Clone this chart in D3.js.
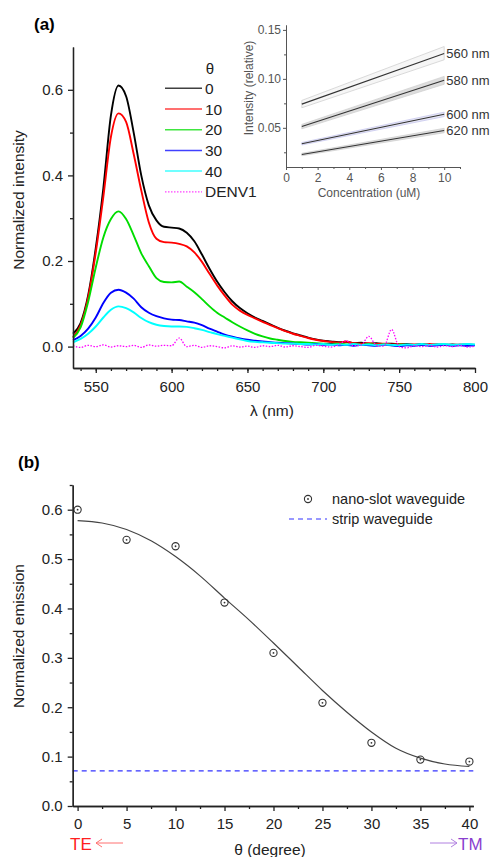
<!DOCTYPE html>
<html>
<head>
<meta charset="utf-8">
<script src="https://cdn.jsdelivr.net/npm/d3@7"></script>
<style>
  body { margin: 0; background: #fff; }
  text { font-family: "Liberation Sans", Arial, sans-serif; }
</style>
</head>
<body>
<div id="chart"></div>
<script>
// Defines dimensions of SVG
var width = 491;
var height = 857;

// ---- Panel (a) data: spectra sampled every 5 nm from 535 to 800 nm ----
var wavelengths = d3.range(535, 801, 5);
var seriesNames = ["0", "10", "20", "30", "40", "DENV1"];
var seriesColors = ["#000000", "#ff0000", "#00dd00", "#0000ff", "#00ffff", "#ff00ff"];

var spec0 = [0.030, 0.055, 0.120, 0.230, 0.370, 0.540, 0.610, 0.585, 0.500, 0.400,
  0.330, 0.295, 0.280, 0.278, 0.276, 0.266, 0.246, 0.215, 0.182, 0.152,
  0.127, 0.106, 0.090, 0.078, 0.068, 0.060, 0.052, 0.044, 0.037, 0.031,
  0.026, 0.021, 0.017, 0.014, 0.012, 0.010, 0.011, 0.008, 0.009, 0.007,
  0.008, 0.006, 0.007, 0.005, 0.006, 0.004, 0.006, 0.004, 0.005, 0.004,
  0.005, 0.004, 0.005, 0.004];
var spec10 = [0.022, 0.050, 0.115, 0.220, 0.350, 0.490, 0.545, 0.525, 0.450, 0.365,
  0.290, 0.252, 0.244, 0.243, 0.240, 0.234, 0.220, 0.198, 0.170, 0.143,
  0.119, 0.098, 0.084, 0.074, 0.066, 0.058, 0.050, 0.043, 0.036, 0.030,
  0.025, 0.020, 0.016, 0.013, 0.011, 0.009, 0.012, 0.008, 0.007, 0.008,
  0.006, 0.007, 0.005, 0.006, 0.004, 0.005, 0.004, 0.006, 0.004, 0.005,
  0.003, 0.005, 0.004, 0.004];
var spec20 = [0.020, 0.045, 0.105, 0.185, 0.255, 0.298, 0.316, 0.298, 0.260, 0.218,
  0.188, 0.160, 0.151, 0.150, 0.152, 0.140, 0.127, 0.111, 0.094, 0.079,
  0.068, 0.057, 0.047, 0.038, 0.030, 0.024, 0.019, 0.016, 0.013, 0.011,
  0.010, 0.009, 0.008, 0.007, 0.006, 0.007, 0.005, 0.006, 0.004, 0.006,
  0.004, 0.005, 0.003, 0.005, 0.004, 0.003, 0.005, 0.003, 0.004, 0.005,
  0.003, 0.004, 0.003, 0.004];
var spec30 = [0.015, 0.025, 0.042, 0.068, 0.102, 0.126, 0.133, 0.126, 0.112, 0.092,
  0.079, 0.071, 0.066, 0.063, 0.062, 0.059, 0.056, 0.050, 0.042, 0.035,
  0.028, 0.023, 0.019, 0.016, 0.014, 0.012, 0.010, 0.009, 0.008, 0.007,
  0.006, 0.005, 0.006, 0.004, 0.005, 0.003, 0.004, 0.002, 0.004, 0.003,
  0.002, 0.004, 0.003, 0.001, 0.003, 0.002, 0.004, 0.002, 0.003, 0.004,
  0.002, 0.003, 0.002, 0.003];
var spec40 = [0.010, 0.018, 0.030, 0.047, 0.068, 0.086, 0.094, 0.090, 0.080, 0.067,
  0.057, 0.051, 0.048, 0.047, 0.047, 0.046, 0.043, 0.039, 0.034, 0.029,
  0.025, 0.021, 0.017, 0.013, 0.011, 0.010, 0.009, 0.008, 0.007, 0.007,
  0.006, 0.006, 0.005, 0.006, 0.004, 0.005, 0.004, 0.006, 0.004, 0.005,
  0.003, 0.005, 0.004, 0.003, 0.005, 0.004, 0.006, 0.004, 0.005, 0.006,
  0.004, 0.005, 0.006, 0.005];
var specDenv = [0.002, -0.002, 0.003, 0.000, 0.004, -0.001, 0.002, 0.000, 0.003, -0.002,
  0.004, 0.001, 0.003, 0.002, 0.020, 0.000, 0.003, -0.002, 0.002, 0.000,
  -0.003, 0.002, -0.001, 0.001, -0.002, 0.002, 0.000, 0.003, -0.001, 0.002,
  0.000, -0.002, 0.003, 0.001, -0.001, 0.004, 0.014, 0.002, 0.004, 0.024,
  0.003, 0.001, 0.040, 0.000, -0.003, 0.002, 0.000, 0.003, -0.001, 0.002,
  0.000, 0.003, -0.001, 0.001];
var spectra = [spec0, spec10, spec20, spec30, spec40, specDenv];

var aXMajor = [550, 600, 650, 700, 750, 800];
var aXMinor = d3.range(540, 800, 10);
var aYMajor = [0.0, 0.2, 0.4, 0.6];
var aYMinor = [0.1, 0.3, 0.5];

// ---- Inset data: linear fits vs concentration ----
var insetConc = [1, 10];
var insetLabels = ["560 nm", "580 nm", "600 nm", "620 nm"];
var insetMid = [[0.0742, 0.1260], [0.0513, 0.0985], [0.0338, 0.0638], [0.0227, 0.0473]];
var insetLow = [[0.0705, 0.1195], [0.0490, 0.0945], [0.0325, 0.0615], [0.0215, 0.0450]];
var insetHigh = [[0.0780, 0.1330], [0.0535, 0.1025], [0.0350, 0.0660], [0.0240, 0.0495]];
var insetBandFill = ["#f6f6f6", "#dddddd", "#e6e6f4", "#dddddd"];
var insetXMajor = [0, 2, 4, 6, 8, 10];
var insetXMinor = [1, 3, 5, 7, 9, 11];
var insetYMajor = [0.05, 0.10, 0.15];
var insetYMinor = [0.025, 0.075, 0.125];

// ---- Panel (b) data ----
var angles = [0, 5, 10, 15, 20, 25, 30, 35, 40];
var emission = [0.600, 0.539, 0.526, 0.412, 0.310, 0.209, 0.128, 0.094, 0.090];
var fitAngles = [0, 2.5, 5, 7.5, 10, 12.5, 15, 17.5, 20, 22.5, 25, 27.5, 30, 32.5, 35, 37.5, 40];
var fitValues = [0.578, 0.573, 0.560, 0.537, 0.505, 0.466, 0.421, 0.377, 0.330, 0.282,
  0.234, 0.190, 0.150, 0.117, 0.097, 0.085, 0.080];
var stripLevel = 0.071;
var bXMajor = [0, 5, 10, 15, 20, 25, 30, 35, 40];
var bXMinor = [2.5, 7.5, 12.5, 17.5, 22.5, 27.5, 32.5, 37.5];
var bYMajor = [0.0, 0.1, 0.2, 0.3, 0.4, 0.5, 0.6];
var bYMinor = [0.05, 0.15, 0.25, 0.35, 0.45, 0.55, 0.65];

var svg = d3.select("#chart").append("svg")
    .attr("width", width)
    .attr("height", height)
    .style("background", "#fff");

var fontFam = "Liberation Sans, Arial, sans-serif";

// draws one axis with major labelled ticks and short minor ticks
function drawAxis(orient, scale, pos, major, minor, opts) {
  var make = orient === "left" ? d3.axisLeft : d3.axisBottom;
  var tr = orient === "left" ? "translate(" + pos + ",0)" : "translate(0," + pos + ")";
  var gMinor = svg.append("g").attr("transform", tr)
    .call(make(scale).tickValues(minor).tickSize(opts.minor).tickSizeOuter(0).tickFormat(""));
  var gMajor = svg.append("g").attr("transform", tr)
    .call(make(scale).tickValues(major).tickSize(opts.major).tickSizeOuter(0)
      .tickPadding(opts.pad).tickFormat(opts.fmt));
  [gMinor, gMajor].forEach(function(g) {
    g.selectAll("path, line").attr("stroke", opts.color).attr("stroke-width", opts.sw);
    g.attr("font-size", opts.size).attr("font-family", fontFam);
    g.selectAll("text").attr("fill", opts.color);
  });
  return gMajor;
}

// ================= Panel (a) =================
var xA = d3.scaleLinear().domain([535, 800]).range([73, 475]);
var yA = d3.scaleLinear().domain([-0.05, 0.70]).range([368, 47]);

var lineA = d3.line()
    .curve(d3.curveMonotoneX)
    .x(function(d, i) { return xA(wavelengths[i]); })
    .y(function(d) { return yA(d); });

svg.append("g").selectAll("path")
  .data(spectra)
  .enter().append("path")
    .attr("d", lineA)
    .attr("fill", "none")
    .attr("stroke", function(d, i) { return seriesColors[i]; })
    .attr("stroke-width", function(d, i) { return i === 5 ? 1.3 : 1.9; })
    .attr("stroke-dasharray", function(d, i) { return i === 5 ? "1.5,1.5" : null; })
    .attr("stroke-linejoin", "round");

drawAxis("left", yA, 73, aYMajor, aYMinor,
  {major: 5, minor: 3, pad: 5, fmt: d3.format(".1f"), size: 15, color: "#222", sw: 1.3});
drawAxis("bottom", xA, 368, aXMajor, aXMinor,
  {major: 5, minor: 3, pad: 8, fmt: d3.format("d"), size: 15, color: "#222", sw: 1.3});

svg.append("text")
    .attr("x", 34).attr("y", 30)
    .attr("font-size", 17).attr("font-weight", "bold")
    .text("(a)");

svg.append("text")
    .attr("transform", "translate(24,200) rotate(-90)")
    .attr("text-anchor", "middle")
    .attr("font-size", 15.5).attr("fill", "#222")
    .text("Normalized intensity");

svg.append("text")
    .attr("x", 272).attr("y", 416)
    .attr("text-anchor", "middle")
    .attr("font-size", 15.5).attr("fill", "#222")
    .text("λ (nm)");

// legend for the angle series
svg.append("text")
    .attr("x", 210).attr("y", 74)
    .attr("text-anchor", "middle")
    .attr("font-size", 15).attr("fill", "#222")
    .text("θ");

var legA = svg.append("g").selectAll("g")
  .data(seriesNames)
  .enter().append("g")
    .attr("transform", function(d, i) { return "translate(0," + (88.3 + i * 20.7) + ")"; });
legA.append("line")
    .attr("x1", 165).attr("x2", 202)
    .attr("stroke", function(d, i) { return seriesColors[i]; })
    .attr("stroke-opacity", 0.75)
    .attr("stroke-width", function(d, i) { return i === 5 ? 1.3 : 1.5; })
    .attr("stroke-dasharray", function(d, i) { return i === 5 ? "1.5,1.5" : null; });
legA.append("text")
    .attr("x", 205).attr("dy", "0.36em")
    .attr("font-size", 15.5).attr("fill", "#222")
    .text(function(d) { return d; });

// ---- Inset ----
var xI = d3.scaleLinear().domain([0, 11]).range([286, 460]);
var yI = d3.scaleLinear().domain([0.01, 0.155]).range([167, 25]);

var insetG = svg.append("g");
insetLabels.forEach(function(lbl, k) {
  var band = d3.area()
      .x(function(d, i) { return xI(insetConc[i]); })
      .y0(function(d, i) { return yI(insetLow[k][i]); })
      .y1(function(d, i) { return yI(insetHigh[k][i]); });
  insetG.append("path")
      .attr("d", band(insetConc))
      .attr("fill", insetBandFill[k])
      .attr("stroke", k === 2 ? "#c8c8ee" : "#d0d0d0")
      .attr("stroke-width", 0.8);
  insetG.append("path")
      .attr("d", d3.line()
        .x(function(d, i) { return xI(insetConc[i]); })
        .y(function(d) { return yI(d); })(insetMid[k]))
      .attr("fill", "none")
      .attr("stroke", "#333")
      .attr("stroke-width", 1.1);
  insetG.append("text")
      .attr("x", xI(10) + 2).attr("y", yI(insetMid[k][1]))
      .attr("dy", "0.35em")
      .attr("font-size", 13).attr("fill", "#333")
      .text(lbl);
});

drawAxis("left", yI, 286, insetYMajor, insetYMinor,
  {major: 3, minor: 2, pad: 2, fmt: d3.format(".2f"), size: 12, color: "#555", sw: 1});
drawAxis("bottom", xI, 167, insetXMajor, insetXMinor,
  {major: 3, minor: 2, pad: 3, fmt: d3.format("d"), size: 12, color: "#555", sw: 1});

svg.append("text")
    .attr("transform", "translate(253,88) rotate(-90)")
    .attr("text-anchor", "middle")
    .attr("font-size", 12).attr("fill", "#555")
    .text("Intensity (relative)");
svg.append("text")
    .attr("x", 369).attr("y", 197)
    .attr("text-anchor", "middle")
    .attr("font-size", 12).attr("fill", "#555")
    .text("Concentration (uM)");

// ================= Panel (b) =================
var xB = d3.scaleLinear().domain([-0.5, 40.4]).range([72.7, 473.3]);
var yB = d3.scaleLinear().domain([0, 0.65]).range([806, 485]);

// strip waveguide reference
svg.append("line")
    .attr("x1", xB(-0.5)).attr("x2", xB(40.4))
    .attr("y1", yB(stripLevel)).attr("y2", yB(stripLevel))
    .attr("stroke", "#3333ff")
    .attr("stroke-width", 1.2)
    .attr("stroke-dasharray", "5,4");

// fitted curve
svg.append("path")
    .attr("d", d3.line()
      .curve(d3.curveMonotoneX)
      .x(function(d, i) { return xB(fitAngles[i]); })
      .y(function(d) { return yB(d); })(fitValues))
    .attr("fill", "none")
    .attr("stroke", "#444")
    .attr("stroke-width", 1.2);

// measured points
var pts = svg.append("g").selectAll("g")
  .data(emission)
  .enter().append("g")
    .attr("transform", function(d, i) { return "translate(" + xB(angles[i]) + "," + yB(d) + ")"; });
pts.append("circle")
    .attr("r", 3.6)
    .attr("fill", "none")
    .attr("stroke", "#333")
    .attr("stroke-width", 1.1);
pts.append("circle")
    .attr("r", 0.9)
    .attr("fill", "#333");

drawAxis("left", yB, 72.7, bYMajor, bYMinor,
  {major: 5, minor: 3, pad: 5, fmt: d3.format(".1f"), size: 15, color: "#222", sw: 1.3});
drawAxis("bottom", xB, 806, bXMajor, bXMinor,
  {major: 5, minor: 3, pad: 7, fmt: d3.format("d"), size: 15, color: "#222", sw: 1.3});

svg.append("text")
    .attr("x", 18).attr("y", 468)
    .attr("font-size", 17).attr("font-weight", "bold")
    .text("(b)");

svg.append("text")
    .attr("transform", "translate(24,636) rotate(-90)")
    .attr("text-anchor", "middle")
    .attr("font-size", 15.5).attr("fill", "#222")
    .text("Normalized emission");

svg.append("text")
    .attr("x", 270).attr("y", 855)
    .attr("text-anchor", "middle")
    .attr("font-size", 15.5).attr("fill", "#222")
    .text("θ (degree)");

// legend (b)
svg.append("circle")
    .attr("cx", 308).attr("cy", 499).attr("r", 3.6)
    .attr("fill", "none").attr("stroke", "#333").attr("stroke-width", 1.1);
svg.append("circle")
    .attr("cx", 308).attr("cy", 499).attr("r", 0.9)
    .attr("fill", "#333");
svg.append("text")
    .attr("x", 332).attr("y", 499).attr("dy", "0.35em")
    .attr("font-size", 14.5).attr("fill", "#222")
    .text("nano-slot waveguide");
svg.append("line")
    .attr("x1", 289).attr("x2", 327)
    .attr("y1", 519).attr("y2", 519)
    .attr("stroke", "#3333ff").attr("stroke-width", 1.2)
    .attr("stroke-dasharray", "5,4");
svg.append("text")
    .attr("x", 332).attr("y", 519).attr("dy", "0.35em")
    .attr("font-size", 14.5).attr("fill", "#222")
    .text("strip waveguide");

// TE / TM polarisation markers
svg.append("text")
    .attr("x", 70).attr("y", 850)
    .attr("font-size", 17).attr("fill", "#ff2020")
    .text("TE");
svg.append("path")
    .attr("d", "M123,843 L96,843 M102,839 L96,843 L102,847")
    .attr("fill", "none").attr("stroke", "#ff7070").attr("stroke-width", 1);

svg.append("path")
    .attr("d", "M430,843 L457,843 M451,839 L457,843 L451,847")
    .attr("fill", "none").attr("stroke", "#b080e0").attr("stroke-width", 1);
svg.append("text")
    .attr("x", 458).attr("y", 850)
    .attr("font-size", 17).attr("fill", "#8a3fcf")
    .text("TM");
</script>
</body>
</html>
